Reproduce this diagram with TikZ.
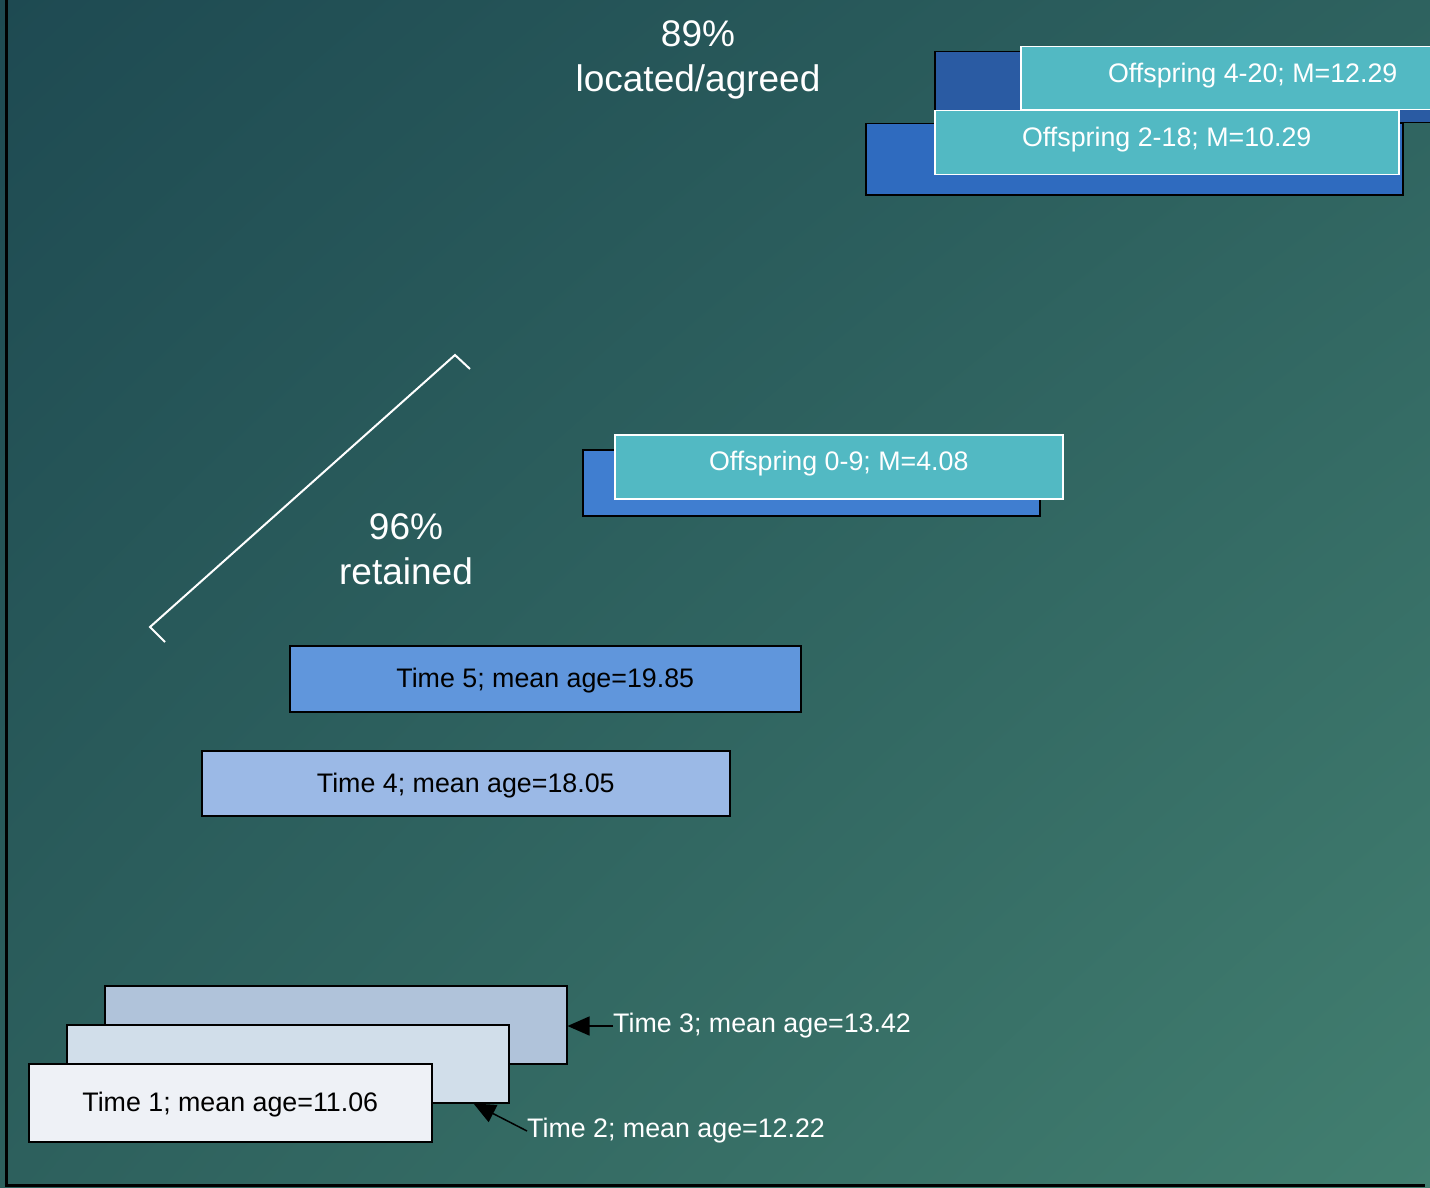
\documentclass[tikz,border=0pt]{standalone}
\usepackage{fontspec}
\setmainfont{Liberation Sans}
\usetikzlibrary{arrows.meta,shadings}

\definecolor{bgUL}{HTML}{1E4A52}
\definecolor{bgUR}{HTML}{2E625F}
\definecolor{bgLL}{HTML}{2D605D}
\definecolor{bgLR}{HTML}{427F70}
\definecolor{offcyan}{HTML}{52B9C3}
\definecolor{backA}{HTML}{2A5BA3}
\definecolor{backB}{HTML}{2F6BBF}
\definecolor{backC}{HTML}{407ED0}
\definecolor{timeA}{HTML}{EEF1F6}
\definecolor{timeB}{HTML}{D1DEEA}
\definecolor{timeC}{HTML}{B0C3DA}
\definecolor{timeD}{HTML}{9BB9E6}
\definecolor{timeE}{HTML}{6096DC}

\begin{document}
\begin{tikzpicture}[x=1pt, y=-1pt,
  txt/.style={font=\fontsize{26.8}{32}\selectfont},
  bigtxt/.style={font=\fontsize{37}{45}\selectfont, text=white, align=center, inner sep=0pt},
  timebox/.style={txt, draw=black, line width=1.5pt, inner sep=0pt, anchor=north west, text=black,
    text height=24pt, text depth=6pt},
  backbox/.style={draw=black, line width=1.5pt, inner sep=0pt, anchor=north west},
  offbox/.style={txt, draw=white, line width=1.5pt, fill=offcyan, inner sep=0pt, anchor=north west, text=white,
    text height=20pt, text depth=12pt},
  label/.style={txt, text=white, inner sep=0pt, anchor=west},
  arr/.style={-{Triangle[length=22pt,width=19pt]}, line width=1.5pt, draw=black},
  axis/.style={line width=3pt, draw=black},
  bracket/.style={line width=2pt, draw=white}]

\useasboundingbox (0,0) rectangle (1430,1188);
\clip (0,0) rectangle (1430,1188);

% background
\shade[upper left=bgUL, upper right=bgUR, lower left=bgLL, lower right=bgLR]
  (0,0) rectangle (1430,1188);

% axes
\coordinate (ytop) at (6,0);
\coordinate (orig) at (6,1185);
\coordinate (xend) at (1425,1185);
\draw[axis] (ytop) -- (orig) -- (xend);

% first three waves, stacked
\node[timebox, fill=timeC, minimum width=462pt, minimum height=78pt] (t3) at (104,985) {};
\node[timebox, fill=timeB, minimum width=442pt, minimum height=78pt] (t2) at (66,1024) {};
\node[timebox, fill=timeA, minimum width=403pt, minimum height=78pt] (t1) at (28,1063) {Time 1; mean age=11.06};

\node[label] (l3) at (613,1026) {Time 3; mean age=13.42};
\node[label] (l2) at (527,1131) {Time 2; mean age=12.22};
\coordinate (t3tip) at (t3.east);
\coordinate (t2tip) at ([xshift=-36pt]t2.south east);
\draw[arr] (l3.west) -- (l3.west -| t3tip);
\draw[arr] (l2.west) -- (t2tip);

% later waves
\node[timebox, fill=timeD, minimum width=528pt, minimum height=65pt] (t4) at (201,750) {Time 4; mean age=18.05};
\node[timebox, fill=timeE, minimum width=511pt, minimum height=66pt] (t5) at (289,645) {Time 5; mean age=19.85};

% offspring cohorts
\node[backbox, fill=backC, minimum width=457pt, minimum height=66pt] (o1b) at (582,449) {};
\node[offbox, minimum width=448pt, minimum height=64pt] (o1) at (614,434) {Offspring 0-9; M=4.08};

\node[backbox, fill=backA, minimum width=566pt, minimum height=71pt] (o3b) at (934,51) {};
\node[offbox, minimum width=464pt, minimum height=63pt] (o3) at (1020,46) {Offspring 4-20; M=12.29};
\node[backbox, fill=backB, minimum width=537pt, minimum height=71pt] (o2b) at (865,123) {};
\node[offbox, minimum width=464pt, minimum height=64pt] (o2) at (934,110) {Offspring 2-18; M=10.29};

% retention bracket
\coordinate (brA) at (150,627);
\coordinate (brB) at (455,355);
\coordinate (brA2) at (165,642);
\coordinate (brB2) at (470,369);
\draw[bracket] (brA2) -- (brA) -- (brB) -- (brB2);

% rates
\node[bigtxt] (ret) at (406,549) {96\%\\retained};
\node[bigtxt] (agr) at (698,60) {89\%\\located/agreed};

\end{tikzpicture}
\end{document}
